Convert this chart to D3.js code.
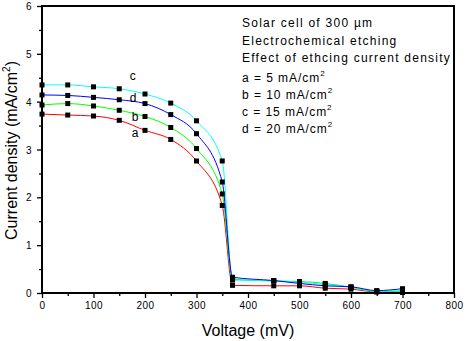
<!DOCTYPE html>
<html><head><meta charset="utf-8">
<script src="https://cdn.jsdelivr.net/npm/d3@7"></script>
<style>body{margin:0;background:#fff}svg{display:block}text{font-family:"Liberation Sans",Arial,sans-serif;fill:#000}</style>
</head><body>
<svg id="c" width="468" height="341"></svg>
<script>
const voltage = [0,50,100,150,200,250,300,350,370,450,500,550,600,650,700];
const seriesA = [3.74,3.72,3.70,3.61,3.40,3.21,2.76,1.83,0.16,0.15,0.15,0.10,0.08,0.02,0.01];
const seriesB = [3.93,3.96,3.91,3.82,3.69,3.46,3.02,2.07,0.29,0.25,0.24,0.20,0.12,0.03,0.03];
const seriesC = [4.35,4.35,4.31,4.27,4.16,3.97,3.60,2.76,0.27,0.26,0.22,0.18,0.12,0.04,0.05];
const seriesD = [4.14,4.13,4.09,4.04,3.96,3.73,3.33,2.32,0.33,0.26,0.20,0.15,0.13,0.05,0.09];
const seriesNames = ["a","b","c","d"];
const seriesColors = ["#ff0000","#00ff00","#00ffff","#0000ff"];
const xTicks = [0,100,200,300,400,500,600,700,800];
const yTicks = [0,1,2,3,4,5,6];
const legendLines = ["Solar cell of 300 µm","Electrochemical etching","Effect of ethcing current density"];
const legendValues = ["5","10","15","20"];

const svg = d3.select("#c");
const L=42,R=454,T=6,B=293;
const x = d3.scaleLinear().domain([0,800]).range([L,R]);
const y = d3.scaleLinear().domain([0,6]).range([B,T]);

const allSeries = [seriesA,seriesB,seriesC,seriesD];
const line = d3.line().x(d=>x(d[0])).y(d=>y(d[1])).curve(d3.curveMonotoneX);
allSeries.forEach((s,i)=>{
  const pts = voltage.map((v,j)=>[v,s[j]]);
  svg.append("path").attr("d",line(pts)).attr("fill","none")
    .attr("stroke",seriesColors[i]).attr("stroke-width",1);
});
allSeries.forEach((s)=>{
  svg.append("g").selectAll("rect").data(voltage.map((v,j)=>[v,s[j]])).join("rect")
    .attr("x",d=>x(d[0])-2.5).attr("y",d=>y(d[1])-2.5).attr("width",5).attr("height",5).attr("fill","#000");
});

// frame
svg.append("rect").attr("x",L).attr("y",T).attr("width",R-L).attr("height",B-T)
  .attr("fill","none").attr("stroke","#000").attr("stroke-width",2);

// axes
const xAx = svg.append("g").attr("transform",`translate(0,${B})`)
  .call(d3.axisBottom(x).tickValues(xTicks).tickSize(5).tickFormat(d3.format("d")));
const xMin = svg.append("g").attr("transform",`translate(0,${B})`)
  .call(d3.axisBottom(x).tickValues(d3.range(50,800,100)).tickSize(3).tickFormat(""));
const yAx = svg.append("g").attr("transform",`translate(${L},0)`)
  .call(d3.axisLeft(y).tickValues(yTicks).tickSize(5).tickFormat(d3.format("d")));
const yMin = svg.append("g").attr("transform",`translate(${L},0)`)
  .call(d3.axisLeft(y).tickValues(d3.range(0.5,6,1)).tickSize(3).tickFormat(""));
[xAx,xMin,yAx,yMin].forEach(g=>{
  g.select(".domain").remove();
  g.selectAll(".tick line").attr("stroke","#000").attr("stroke-width",1.3);
  g.selectAll("text").attr("font-size",10).attr("letter-spacing",0.5)
   .attr("font-family",'"Liberation Sans",Arial,sans-serif').attr("fill","#000");
});
xAx.selectAll("text").attr("y",9).attr("dy","0.71em");
yAx.selectAll("text").attr("x",-10).attr("dy","0.35em");

// axis titles
svg.append("text").attr("x",(L+R)/2).attr("y",336).attr("text-anchor","middle")
  .attr("font-size",16).text("Voltage (mV)");
const yl = svg.append("text").attr("transform",`translate(17,${(T+B)/2+1}) rotate(-90)`)
  .attr("text-anchor","middle").attr("font-size",16);
yl.append("tspan").text("Current density (mA/cm");
yl.append("tspan").attr("font-size",10).attr("dy",-7).text("2");
yl.append("tspan").attr("dy",7).text(")");

// legend text
const lx=242;
const baselines=[27,44.7,62,81.7,99,116.3,133.3];
legendLines.forEach((t,i)=>{
  svg.append("text").attr("x",lx).attr("y",baselines[i]).attr("font-size",12)
    .attr("letter-spacing",1.25).text(t);
});
legendValues.forEach((v,i)=>{
  const t = svg.append("text").attr("x",lx).attr("y",baselines[i+3]).attr("font-size",12).attr("letter-spacing",0.95);
  t.append("tspan").text(`${seriesNames[i]} = ${v} mA/cm`);
  t.append("tspan").attr("font-size",8).attr("dy",-6).text("2");
});

// curve labels (placed near V = 170 mV)
const labelOrder = [2,3,1,0];
const labelY = [80,101.7,120.7,136.7];
const labelX = [129.7,129.7,131.7,131.7];
labelOrder.forEach((si,i)=>{
  svg.append("text").attr("x",labelX[i]).attr("y",labelY[i]).attr("font-size",12).text(seriesNames[si]);
});
</script>
</body></html>
